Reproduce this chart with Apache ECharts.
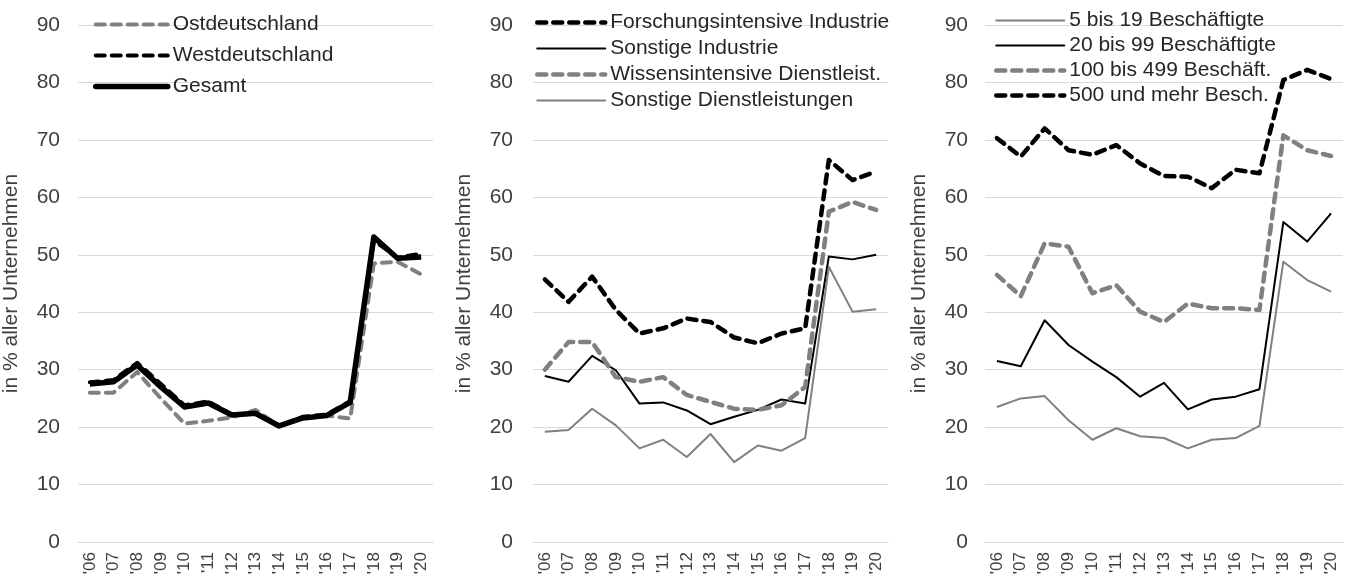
<!DOCTYPE html>
<html style="height: 100%">
<head>
    <meta charset="UTF-8">
    <title>Anteil Unternehmen</title>
</head>
<body style="height: 100%; margin: 0; background: #fff">
<div id="container" style="width: 1347px; height: 578px"></div>

<script type="text/javascript" src="https://cdn.jsdelivr.net/npm/echarts@6/dist/echarts.min.js"></script>
<script type="text/javascript">
    var years = ["'06", "'07", "'08", "'09", "'10", "'11", "'12", "'13", "'14", "'15", "'16", "'17", "'18", "'19", "'20"];

    // Panel 1: Region
    var ostNames = ['Ostdeutschland', 'Westdeutschland', 'Gesamt'];
    var ost = [26.0, 26.0, 29.6, 25.0, 20.6, 21.1, 21.7, 23.0, 20.2, 21.5, 22.0, 21.5, 48.5, 48.8, 46.6];
    var west = [27.8, 28.2, 31.2, 27.5, 23.8, 24.5, 22.2, 22.3, 20.2, 21.8, 22.2, 24.5, 52.5, 49.5, 50.2];
    var gesamt = [27.5, 27.9, 30.8, 27.0, 23.5, 24.2, 22.1, 22.4, 20.2, 21.6, 22.0, 24.3, 53.1, 49.4, 49.6];

    // Panel 2: Branche
    var brancheNames = ['Forschungsintensive Industrie', 'Sonstige Industrie', 'Wissensintensive Dienstleist.', 'Sonstige Dienstleistungen'];
    var forschung = [45.7, 41.8, 46.2, 40.4, 36.3, 37.2, 38.9, 38.3, 35.6, 34.6, 36.3, 37.2, 66.5, 63.0, 64.5];
    var sonstInd = [28.9, 27.9, 32.4, 29.9, 24.1, 24.3, 22.9, 20.5, 21.8, 23.0, 24.8, 24.1, 49.7, 49.2, 50.0];
    var wissen = [30.0, 34.8, 34.8, 28.7, 27.9, 28.7, 25.6, 24.4, 23.2, 23.0, 23.8, 27.0, 57.5, 59.2, 57.8];
    var sonstDL = [19.2, 19.5, 23.2, 20.3, 16.3, 17.8, 14.8, 18.8, 13.9, 16.8, 15.9, 18.1, 47.9, 40.1, 40.5];

    // Panel 3: Groesse
    var groesseNames = ['5 bis 19 Beschäftigte', '20 bis 99 Beschäftigte', '100 bis 499 Beschäft.', '500 und mehr Besch.'];
    var g5 = [23.5, 25.0, 25.4, 21.2, 17.8, 19.8, 18.4, 18.1, 16.3, 17.8, 18.1, 20.2, 48.8, 45.6, 43.6];
    var g20 = [31.5, 30.6, 38.6, 34.3, 31.4, 28.7, 25.3, 27.7, 23.1, 24.8, 25.3, 26.6, 55.7, 52.3, 57.2];
    var g100 = [46.5, 42.8, 52.0, 51.4, 43.3, 44.7, 40.1, 38.3, 41.5, 40.7, 40.7, 40.4, 70.8, 68.2, 67.2];
    var g500 = [70.3, 67.1, 72.0, 68.2, 67.4, 69.1, 65.9, 63.7, 63.6, 61.6, 64.8, 64.2, 80.4, 82.2, 80.6];

    var BLACK = '#000000';
    var GRAY = '#808080';
    var FONT = 'Liberation Sans, Arial, sans-serif';

    var grids = [
        {left: 78, width: 355, top: 25, bottom: 36},
        {left: 533, width: 355, top: 25, bottom: 36},
        {left: 985, width: 358, top: 25, bottom: 36}
    ];

    var xAxes = grids.map(function (g, i) {
        return {
            type: 'category', gridIndex: i, data: years, boundaryGap: true,
            axisLine: {lineStyle: {color: '#d9d9d9'}},
            axisTick: {show: false},
            axisLabel: {rotate: 90, fontSize: 17, color: '#404040', fontFamily: FONT, margin: 10, interval: 0}
        };
    });

    var yAxes = grids.map(function (g, i) {
        return {
            type: 'value', gridIndex: i, min: 0, max: 90, interval: 10,
            name: 'in % aller Unternehmen', nameLocation: 'middle', nameGap: [56, 58, 55][i],
            nameTextStyle: {fontSize: 21, color: '#404040', fontFamily: FONT},
            axisLine: {show: false}, axisTick: {show: false},
            axisLabel: {fontSize: 21, color: '#404040', fontFamily: FONT, margin: [18, 20, 17][i]},
            splitLine: {lineStyle: {color: '#d9d9d9', width: 1}}
        };
    });

    function line(name, data, idx, color, width, dashed) {
        return {
            name: name, type: 'line', xAxisIndex: idx, yAxisIndex: idx,
            data: data, symbol: 'none', animation: false,
            lineStyle: {color: color, width: width, type: dashed ? [9, 7] : 'solid', cap: dashed ? 'round' : 'butt', join: 'round'},
            itemStyle: {color: color}
        };
    }

    var series = [
        line(ostNames[0], ost, 0, GRAY, 4, true),
        line(ostNames[1], west, 0, BLACK, 4, true),
        line(ostNames[2], gesamt, 0, BLACK, 5.5, false),
        line(brancheNames[0], forschung, 1, BLACK, 4.5, true),
        line(brancheNames[1], sonstInd, 1, BLACK, 2, false),
        line(brancheNames[2], wissen, 1, GRAY, 4.5, true),
        line(brancheNames[3], sonstDL, 1, GRAY, 2, false),
        line(groesseNames[0], g5, 2, GRAY, 2, false),
        line(groesseNames[1], g20, 2, BLACK, 2, false),
        line(groesseNames[2], g100, 2, GRAY, 4.5, true),
        line(groesseNames[3], g500, 2, BLACK, 4.5, true)
    ];

    function legend(names, left, top, gap, w) {
        return {
            data: names, orient: 'vertical', left: left, top: top,
            itemWidth: w, itemHeight: 14, itemGap: gap,
            itemStyle: {opacity: 0},
            lineStyle: {width: 'inherit', type: 'inherit', cap: 'round'},
            textStyle: {fontSize: 21, lineHeight: 21, color: '#262626', fontFamily: FONT},
            selectedMode: false
        };
    }

    var option = {
        backgroundColor: '#ffffff',
        animation: false,
        grid: grids,
        xAxis: xAxes,
        yAxis: yAxes,
        legend: [
            legend(ostNames, 88, 9, 10, 72),
            legend(brancheNames, 530, 7, 5, 68),
            legend(groesseNames, 989, 5, 4, 68)
        ],
        series: series
    };

    var myChart = echarts.init(document.getElementById('container'));
    myChart.setOption(option);
</script>
</body>
</html>
